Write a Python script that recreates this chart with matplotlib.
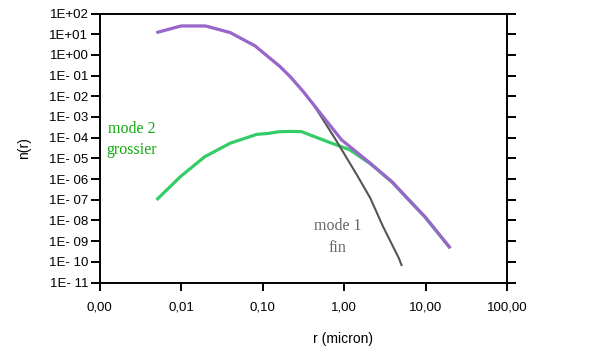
import matplotlib
matplotlib.use("Agg")
import matplotlib.pyplot as plt
from matplotlib.ticker import FixedLocator, NullLocator

# total distribution (purple)
r_total = [0.005, 0.01, 0.02, 0.04, 0.081, 0.164, 0.22, 0.316, 0.617, 0.93,
           2.09, 3.85, 6.8, 9.8, 20]
n_total = [12, 25, 25, 12, 2.7, 0.27, 0.085, 0.0166, 5.9e-4, 7.8e-5,
           5.8e-6, 7.4e-7, 6.8e-8, 1.5e-8, 4.6e-10]

# mode 1 (fin)
r_fin = [0.005, 0.01, 0.02, 0.04, 0.081, 0.164, 0.22, 0.316, 0.42, 0.79,
         1.43, 2.09, 3.0, 4.68, 5.1]
n_fin = [12, 25, 25, 12, 2.7, 0.27, 0.085, 0.0166, 4.0e-3, 7.8e-5,
         1.6e-6, 1.2e-7, 5e-9, 1.5e-10, 6.3e-11]

# mode 2 (grossier)
r_gros = [0.005, 0.0098, 0.0195, 0.04, 0.085, 0.117, 0.16, 0.22, 0.30, 0.62,
          1.17, 2.09, 3.85, 6.8, 9.8, 20]
n_gros = [9.8e-8, 1.3e-6, 1.2e-5, 5.4e-5, 1.45e-4, 1.6e-4, 1.95e-4, 2.0e-4,
          1.95e-4, 6.5e-5, 2.6e-5, 5.5e-6, 7.2e-7, 6.6e-8, 1.45e-8, 4.5e-10]

x_ticks = [0.001, 0.01, 0.1, 1, 10, 100]
x_labels = ["0,00", "0,01", "0,10", "1,00", "10,00", "100,00"]
y_ticks = [10.0 ** k for k in range(2, -12, -1)]
y_labels = ["1E+02", "1E+01", "1E+00"] + ["1E- %02d" % k for k in range(1, 12)]

plt.rcParams["font.family"] = ["Liberation Sans", "DejaVu Sans"]

fig = plt.figure(figsize=(6.09, 3.52), dpi=100)
ax = fig.add_axes([0.1634, 0.1974, 0.6696, 0.7642])

ax.plot(r_gros, n_gros, color="#33cc66", lw=2.3, zorder=2, solid_capstyle="butt")
ax.plot(r_fin, n_fin, color="#555555", lw=1.5, zorder=3, solid_capstyle="butt")
ax.plot(r_total, n_total, color="#9966cc", lw=2.3, zorder=4, solid_capstyle="butt")

ax.set_xscale("log")
ax.set_yscale("log")
ax.set_xlim(0.001, 100)
ax.set_ylim(1e-11, 1e2)

ax.xaxis.set_major_locator(FixedLocator(x_ticks))
ax.xaxis.set_minor_locator(NullLocator())
ax.set_xticklabels(x_labels)
ax.yaxis.set_major_locator(FixedLocator(y_ticks))
ax.yaxis.set_minor_locator(NullLocator())
ax.set_yticklabels(y_labels)

ax.tick_params(axis="y", which="major", direction="out", length=6.5, width=1.4,
               left=True, right=True, labelsize=9.5, pad=1.5)
ax.tick_params(axis="x", which="major", direction="out", length=6, width=1.4,
               bottom=True, top=False, labelsize=9.5, pad=8)
for sp in ax.spines.values():
    sp.set_linewidth(1.4)

ax.set_ylabel("n(r)", fontsize=10)
ax.yaxis.set_label_coords(-0.168, 0.5)
ax.set_xlabel("r (micron)", fontsize=10)
ax.xaxis.set_label_coords(0.598, -0.185)

ax.text(0.078, 0.532, "mode 2\ngrossier", transform=ax.transAxes, color="#11aa11",
        family="Liberation Serif", fontsize=11.5, ha="center", va="center",
        linespacing=1.45)
ax.text(0.583, 0.169, "mode 1\nfin", transform=ax.transAxes, color="#666666",
        family="Liberation Serif", fontsize=11.5, ha="center", va="center",
        linespacing=1.45)

fig.savefig("out.png", dpi=100)
